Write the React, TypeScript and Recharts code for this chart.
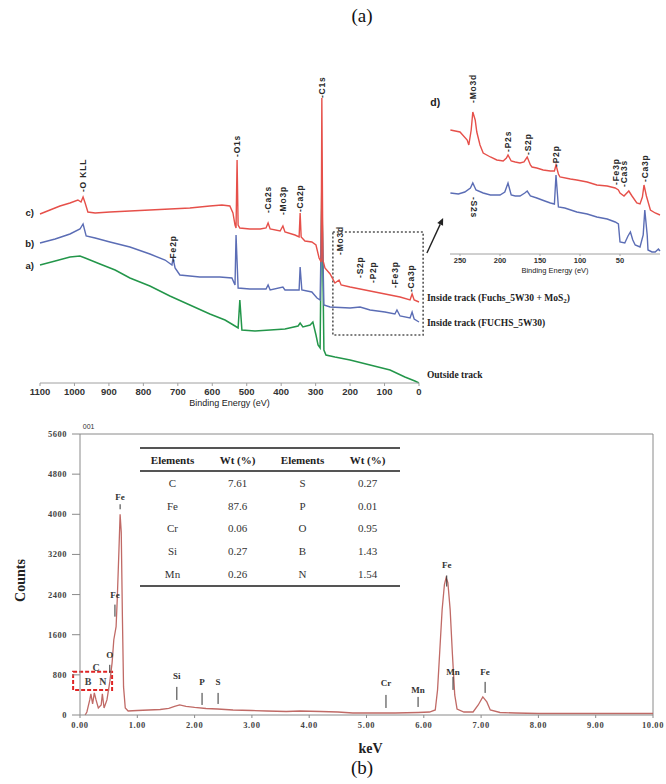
import React from 'react';
import { LineChart, Line, XAxis, YAxis, ReferenceLine, ReferenceArea, ReferenceDot } from 'recharts';

// ---------- (a) XPS survey spectra: [binding energy (eV), intensity (a.u., stacked)]
const surveyC: number[][] = [
  [1100, 169], [1071, 173], [1042, 177], [1013, 180], [990, 183], [981, 181], [975, 186], [969, 180], [961, 171],
  [940, 170], [897, 171], [839, 172], [781, 173], [723, 174], [665, 175], [607, 177], [572, 178], [549, 177],
  [540, 170], [534, 158], [531, 155], [528, 223], [525, 158], [520, 155], [491, 154], [461, 154], [444, 155],
  [438, 160], [432, 154], [403, 152], [395, 157], [389, 151], [360, 148], [348, 146], [345, 170], [342, 146],
  [331, 142], [311, 141], [299, 138], [290, 125], [284, 121], [282, 285], [279, 123], [273, 115], [258, 109],
  [244, 100], [232, 103], [226, 98], [200, 96], [171, 94], [142, 92], [113, 90], [84, 88], [55, 86], [26, 83],
  [20, 89], [14, 83], [0, 81],
];
const surveyB: number[][] = [
  [1100, 140], [1056, 144], [1013, 149], [984, 154], [975, 159], [966, 147], [940, 145], [897, 141], [839, 136],
  [781, 129], [737, 123], [717, 118], [714, 125], [708, 115], [694, 108], [636, 106], [578, 106], [543, 105],
  [534, 98], [531, 148], [525, 95], [491, 94], [444, 94], [438, 98], [432, 93], [395, 96], [389, 93], [348, 93],
  [345, 116], [340, 93], [311, 91], [296, 85], [287, 83], [282, 183], [276, 78], [258, 76], [200, 75], [171, 76],
  [142, 73], [99, 71], [70, 69], [64, 73], [55, 67], [26, 65], [20, 71], [14, 64], [0, 61],
];
const surveyA: number[][] = [
  [1100, 118], [1056, 122], [1013, 126], [984, 127], [969, 125], [926, 119], [882, 113], [839, 105], [781, 97],
  [723, 87], [665, 78], [607, 69], [563, 63], [534, 57], [525, 55], [520, 83], [514, 53], [476, 52], [432, 53],
  [389, 54], [351, 57], [345, 60], [337, 56], [316, 58], [308, 61], [299, 48], [293, 38], [287, 35], [282, 200],
  [276, 33], [270, 28], [244, 26], [200, 23], [142, 18], [84, 13], [41, 6], [12, 2], [0, 0],
];
const surveyTicks = [0, 100, 200, 300, 400, 500, 600, 700, 800, 900, 1000, 1100];
// peak labels: [text, eV, intensity at label foot]
const surveyPeakLabels: [string, number, number][] = [
  ['-O KLL', 975, 191], ['-O1s', 528, 226], ['-Ca2s', 438, 170], ['-Mo3p', 395, 168], ['-Ca2p', 345, 171],
  ['-C1s', 282, 285], ['-Fe2p', 714, 121], ['-Mo3d', 229, 128], ['-S2p', 171, 105], ['-P2p', 134, 100],
  ['-Fe3p', 70, 95], ['-Ca3p', 23, 91],
];
const curveTags: [string, number, number][] = [['c)', 1130, 171], ['b)', 1130, 140], ['a)', 1130, 118]];
const trackNames: [string, number, number][] = [
  ['Inside  track (Fuchs_5W30 + MoS', -23, 85], ['Inside  track (FUCHS_5W30)', -23, 60], ['Outside track', -23, 8],
];

// ---------- (d) inset, 0–260 eV
const insetC: number[][] = [
  [262, 124], [250, 122], [241, 114], [239, 109], [236, 124], [234, 142], [231, 134], [229, 122], [225, 109],
  [221, 101], [212, 97], [204, 94], [196, 93], [192, 96], [190, 99], [186, 93], [181, 92], [175, 91], [170, 92],
  [166, 97], [162, 89], [160, 87], [154, 86], [146, 84], [137, 83], [132, 83], [130, 89], [127, 80], [125, 77],
  [112, 75], [104, 74], [91, 72], [79, 69], [66, 68], [56, 66], [52, 64], [50, 61], [45, 58], [39, 63], [35, 58],
  [29, 51], [25, 50], [22, 57], [20, 69], [17, 58], [12, 44], [6, 41], [0, 39],
];
const insetB: number[][] = [
  [262, 61], [252, 60], [244, 62], [237, 66], [234, 71], [230, 64], [221, 61], [212, 59], [200, 59], [194, 62],
  [190, 71], [186, 59], [181, 58], [175, 58], [169, 61], [166, 63], [162, 58], [154, 56], [144, 53], [137, 51],
  [132, 50], [130, 79], [127, 47], [119, 46], [104, 42], [91, 40], [79, 37], [66, 35], [56, 32], [52, 30],
  [50, 12], [44, 11], [40, 18], [37, 22], [34, 14], [31, 9], [25, 7], [21, 19], [19, 44], [16, 19], [15, 4],
  [10, 2], [6, 2], [2, 5], [0, 3],
];
const insetTicks = [50, 100, 150, 200, 250];
const insetPeakLabels: [string, number, number][] = [
  ['-Mo3d', 234, 151], ['-P2s', 190, 102], ['-S2p', 165, 99], ['-P2p', 130, 87],
  ['-Fe3p', 55, 69], ['-Ca3s', 45, 67], ['-Ca3p', 19, 72],
];
const insetLowerLabels: [string, number, number][] = [['-S2s', 232, 57]];

// ---------- (b) EDS spectrum: [keV, counts]
const edsSpectrum: number[][] = [
  [0.09, 0], [0.12, 60], [0.17, 300], [0.19, 420], [0.22, 220], [0.25, 440], [0.28, 300], [0.32, 140], [0.37, 200],
  [0.39, 420], [0.42, 140], [0.47, 300], [0.52, 660], [0.56, 1040], [0.59, 1500], [0.63, 1760], [0.65, 2300],
  [0.68, 3300], [0.70, 4000], [0.72, 3640], [0.74, 1960], [0.76, 560], [0.79, 140], [0.84, 80], [1.0, 90],
  [1.2, 100], [1.4, 110], [1.55, 130], [1.65, 170], [1.74, 200], [1.85, 170], [2.0, 150], [2.2, 130], [2.4, 120],
  [2.67, 100], [3.0, 90], [3.26, 80], [3.6, 70], [3.84, 80], [4.2, 70], [4.5, 60], [4.76, 40], [5.0, 40],
  [5.5, 40], [5.9, 50], [6.1, 60], [6.2, 100], [6.24, 500], [6.28, 1300], [6.32, 2100], [6.36, 2600], [6.39, 2740],
  [6.42, 2640], [6.46, 2100], [6.5, 1200], [6.54, 400], [6.58, 120], [6.7, 60], [6.86, 60], [6.95, 200],
  [7.03, 360], [7.1, 260], [7.16, 100], [7.33, 50], [7.6, 40], [8.0, 30], [9.0, 30], [10.0, 30],
];
const edsXTicks = [0, 1, 2, 3, 4, 5, 6, 7, 8, 9, 10];
const edsYTicks = [0, 800, 1600, 2400, 3200, 4000, 4800, 5600];
// element labels: [text, keV, counts of text centre, marker top, marker bottom]
const edsLabels: [string, number, number, number, number][] = [
  ['Fe', 0.70, 4340, 4200, 4100], ['Fe', 0.61, 2400, 2200, 1960], ['O', 0.52, 1200, 1000, 840],
  ['Si', 1.69, 780, 560, 300], ['P', 2.13, 660, 440, 200], ['S', 2.41, 660, 440, 220],
  ['Cr', 5.34, 640, 400, 140], ['Mn', 5.9, 500, 360, 160], ['Mn', 6.51, 860, 760, 500],
  ['Fe', 7.07, 860, 660, 440], ['Fe', 6.4, 2980, 2780, 2560],
];
const edsLightLabels: [string, number, number][] = [['C', 0.28, 940], ['B', 0.14, 660], ['N', 0.4, 660]];
const tableHeader = ['Elements', 'Wt (%)', 'Elements', 'Wt (%)'];
const tableRows = [
  ['C', '7.61', 'S', '0.27'],
  ['Fe', '87.6', 'P', '0.01'],
  ['Cr', '0.06', 'O', '0.95'],
  ['Si', '0.27', 'B', '1.43'],
  ['Mn', '0.26', 'N', '1.54'],
];

const SANS = '"Liberation Sans", Arial, sans-serif';
const SERIF = '"Liberation Serif", "Times New Roman", serif';
const RED = '#e6504a';
const BLUE = '#5b6db5';
const GREEN = '#23964a';
const EDS = '#c06a66';

const pts = (arr: number[][]) => arr.map(([x, y]) => ({ x, y }));

const rotLabel = (text: string, rot: number, size: number, spacing: number) => (p: any) => (
  <text
    x={p.cx}
    y={p.cy}
    transform={`rotate(${rot}, ${p.cx}, ${p.cy})`}
    textAnchor="start"
    dominantBaseline="central"
    fontFamily={SANS}
    fontSize={size}
    fontWeight="bold"
    letterSpacing={spacing}
    fill="#2a2a2a"
  >
    {text}
  </text>
);

const plainLabel = (text: string, opts: any) => (p: any) => (
  <text x={p.cx} y={p.cy} dominantBaseline="central" {...opts}>
    {text}
  </text>
);

const AxisTitle = (props: any) => {
  const { viewBox, text, dy, size, dx = 0, font = SANS, weight = 'normal' } = props;
  if (!viewBox) return null;
  return (
    <text
      x={viewBox.x + viewBox.width / 2 + dx}
      y={viewBox.y + dy}
      textAnchor="middle"
      fontFamily={font}
      fontSize={size}
      fontWeight={weight}
      fill="#222"
    >
      {text}
    </text>
  );
};

const CountsTitle = (props: any) => {
  const { viewBox } = props;
  if (!viewBox) return null;
  const cx = 20;
  const cy = viewBox.y + viewBox.height / 2 + 6;
  return (
    <text x={cx} y={cy} transform={`rotate(-90, ${cx}, ${cy})`} textAnchor="middle" dominantBaseline="central"
      fontFamily={SERIF} fontSize={14} fontWeight="bold" fill="#222">
      Counts
    </text>
  );
};

const ArrowShape = (p: any) => {
  const { x1, y1, x2, y2 } = p;
  const ang = Math.atan2(y2 - y1, x2 - x1);
  const L = 7;
  const W = 3.2;
  const bx = x2 - L * Math.cos(ang);
  const by = y2 - L * Math.sin(ang);
  const poly = `${x2},${y2} ${bx + W * Math.sin(ang)},${by - W * Math.cos(ang)} ${bx - W * Math.sin(ang)},${by + W * Math.cos(ang)}`;
  return (
    <g>
      <line x1={x1} y1={y1} x2={bx} y2={by} stroke="#222" strokeWidth={1.4} />
      <polygon points={poly} fill="#222" />
    </g>
  );
};

function SurveyChart() {
  return (
    <LineChart width={666} height={420} margin={{ top: 83, right: 247, bottom: 7, left: 40 }}>
      <XAxis
        type="number"
        dataKey="x"
        domain={[0, 1100]}
        reversed
        ticks={surveyTicks}
        interval={0}
        tickSize={3}
        tickMargin={2}
        stroke="#a0a0a0"
        height={30}
        tick={{ fontSize: 9.5, fontWeight: 'bold', fill: '#333', fontFamily: SANS }}
        label={<AxisTitle text="Binding Energy (eV)" dy={23} size={9} />}
      />
      <YAxis type="number" dataKey="y" domain={[0, 300]} hide />
      <ReferenceArea x1={250} x2={-12} y1={48} y2={151} ifOverflow="visible" fill="none" fillOpacity={0}
        stroke="#555" strokeDasharray="2 2" strokeWidth={1.6} />
      <Line data={pts(surveyA)} dataKey="y" stroke={GREEN} strokeWidth={1.5} dot={false} isAnimationActive={false} />
      <Line data={pts(surveyB)} dataKey="y" stroke={BLUE} strokeWidth={1.4} dot={false} isAnimationActive={false} />
      <Line data={pts(surveyC)} dataKey="y" stroke={RED} strokeWidth={1.4} dot={false} isAnimationActive={false} />
      {surveyPeakLabels.map(([t, x, y], i) => (
        <ReferenceDot key={'sp' + i} x={x} y={y} r={1} ifOverflow="visible" shape={rotLabel(t, -90, 8.5, 0.8)} />
      ))}
      {curveTags.map(([t, x, y], i) => (
        <ReferenceDot key={'ct' + i} x={x} y={y} r={1} ifOverflow="visible"
          shape={plainLabel(t, { fontFamily: SANS, fontSize: 9.5, fontWeight: 'bold', fill: '#222', textAnchor: 'middle' })} />
      ))}
      {trackNames.map(([t, x, y], i) => (
        <ReferenceDot key={'tn' + i} x={x} y={y} r={1} ifOverflow="visible"
          shape={(p: any) => (
            <text x={p.cx} y={p.cy} dominantBaseline="central" fontFamily={SERIF} fontSize={9.5} fontWeight="bold" fill="#222">
              {t}
              {i === 0 ? (
                <>
                  <tspan fontSize={7} dy={3}>2</tspan>
                  <tspan dy={-3}>)</tspan>
                </>
              ) : null}
            </text>
          )} />
      ))}
      <ReferenceLine segment={[{ x: -23, y: 130 }, { x: -70, y: 165 }]} ifOverflow="visible" shape={ArrowShape} />
    </LineChart>
  );
}

function InsetChart() {
  return (
    <LineChart width={666} height={300} margin={{ top: 84, right: 6, bottom: 21, left: 450 }}>
      <XAxis
        type="number"
        dataKey="x"
        domain={[0, 262.5]}
        reversed
        ticks={insetTicks}
        interval={0}
        tickSize={2}
        tickMargin={2}
        stroke="#a0a0a0"
        height={25}
        tick={{ fontSize: 7.5, fontWeight: 'bold', fill: '#333', fontFamily: SANS }}
        label={<AxisTitle text="Binding Energy (eV)" dy={19} size={7.5} dx={-0} />}
      />
      <YAxis type="number" dataKey="y" domain={[0, 170]} hide />
      <Line data={pts(insetB)} dataKey="y" stroke={BLUE} strokeWidth={1.4} dot={false} isAnimationActive={false} />
      <Line data={pts(insetC)} dataKey="y" stroke={RED} strokeWidth={1.4} dot={false} isAnimationActive={false} />
      {insetPeakLabels.map(([t, x, y], i) => (
        <ReferenceDot key={'ip' + i} x={x} y={y} r={1} ifOverflow="visible" shape={rotLabel(t, -90, 8.5, 0.8)} />
      ))}
      {insetLowerLabels.map(([t, x, y], i) => (
        <ReferenceDot key={'il' + i} x={x} y={y} r={1} ifOverflow="visible" shape={rotLabel(t, 90, 8.5, 0.8)} />
      ))}
      <ReferenceDot x={281} y={152} r={1} ifOverflow="visible"
        shape={plainLabel('d)', { fontFamily: SANS, fontSize: 10.5, fontWeight: 'bold', fill: '#222', textAnchor: 'middle' })} />
    </LineChart>
  );
}

function EdsChart() {
  return (
    <LineChart width={666} height={364} margin={{ top: 14, right: 13, bottom: 0, left: 0 }}>
      <XAxis
        type="number"
        dataKey="x"
        domain={[0, 10]}
        ticks={edsXTicks}
        interval={0}
        tickFormatter={(v: number) => v.toFixed(2)}
        tickSize={3}
        tickMargin={4}
        stroke="#8a8a8a"
        height={69}
        tick={{ fontSize: 8.5, fontWeight: 'bold', fill: '#444', fontFamily: SERIF, letterSpacing: 0.6 }}
        label={<AxisTitle text="keV" dy={38} size={14} dx={4} font={SERIF} weight="bold" />}
      />
      <YAxis
        type="number"
        dataKey="y"
        domain={[0, 5600]}
        ticks={edsYTicks}
        interval={0}
        width={80}
        tickSize={8}
        tickMargin={5}
        stroke="#8a8a8a"
        tick={{ fontSize: 8.5, fontWeight: 'bold', fill: '#444', fontFamily: SERIF, letterSpacing: 0.5 }}
        label={<CountsTitle />}
      />
      <ReferenceLine y={5600} stroke="#8a8a8a" />
      <ReferenceLine x={10} stroke="#8a8a8a" />
      <Line data={pts(edsSpectrum)} dataKey="y" stroke={EDS} strokeWidth={1.3} dot={false} isAnimationActive={false} />
      {edsLabels.map(([t, x, y, m1, m2], i) => (
        <React.Fragment key={'el' + i}>
          <ReferenceDot x={x} y={y} r={1} ifOverflow="visible"
            shape={plainLabel(t, { fontFamily: SERIF, fontSize: 9, fontWeight: 'bold', fill: '#333', textAnchor: 'middle' })} />
          <ReferenceLine segment={[{ x, y: m1 }, { x, y: m2 }]} stroke="#333" strokeWidth={1} ifOverflow="visible" />
        </React.Fragment>
      ))}
      {edsLightLabels.map(([t, x, y], i) => (
        <ReferenceDot key={'ll' + i} x={x} y={y} r={1} ifOverflow="visible"
          shape={plainLabel(t, { fontFamily: SERIF, fontSize: 10, fontWeight: 'bold', fill: '#444', textAnchor: 'middle' })} />
      ))}
      <ReferenceArea x1={-0.12} x2={0.56} y1={500} y2={860} ifOverflow="visible" fill="none" fillOpacity={0}
        stroke="#e02424" strokeDasharray="4 2" strokeWidth={2} />
      <ReferenceDot x={0.15} y={5740} r={1} ifOverflow="visible"
        shape={plainLabel('001', { fontFamily: SANS, fontSize: 7, fill: '#333', textAnchor: 'middle' })} />
    </LineChart>
  );
}

function ElementTable() {
  return (
    <div style={{ position: 'absolute', left: 140, top: 447, width: 260, fontFamily: SERIF, fontSize: 11, color: '#222' }}>
      <div style={{ borderTop: '2px solid #555', borderBottom: '2px solid #555', display: 'flex', height: 21, alignItems: 'center' }}>
        {tableHeader.map((h, i) => (
          <div key={i} style={{ width: 65, textAlign: 'center', fontWeight: 'bold' }}>{h}</div>
        ))}
      </div>
      {tableRows.map((r, i) => (
        <div key={i} style={{ display: 'flex', height: 22.6, alignItems: 'center', color: '#333' }}>
          {r.map((c, j) => (
            <div key={j} style={{ width: 65, textAlign: 'center' }}>{c}</div>
          ))}
        </div>
      ))}
      <div style={{ borderTop: '2px solid #555' }} />
    </div>
  );
}

export default function App() {
  return (
    <div style={{ position: 'absolute', left: 0, top: 0, width: 666, height: 784, background: '#fff', overflow: 'hidden', fontFamily: SERIF }}>
      <div style={{ position: 'absolute', left: 0, top: 5, width: 666, textAlign: 'center', fontSize: 19, color: '#111' }}>
        <span style={{ position: 'relative', left: 29 }}>(a)</span>
      </div>
      <div style={{ position: 'absolute', left: 0, top: 0 }}>
        <SurveyChart />
      </div>
      <div style={{ position: 'absolute', left: 0, top: 0 }}>
        <InsetChart />
      </div>
      <div style={{ position: 'absolute', left: 0, top: 420 }}>
        <EdsChart />
      </div>
      <ElementTable />
      <div style={{ position: 'absolute', left: 0, top: 757, width: 666, textAlign: 'center', fontSize: 19, color: '#111' }}>
        <span style={{ position: 'relative', left: 29 }}>(b)</span>
      </div>
    </div>
  );
}
